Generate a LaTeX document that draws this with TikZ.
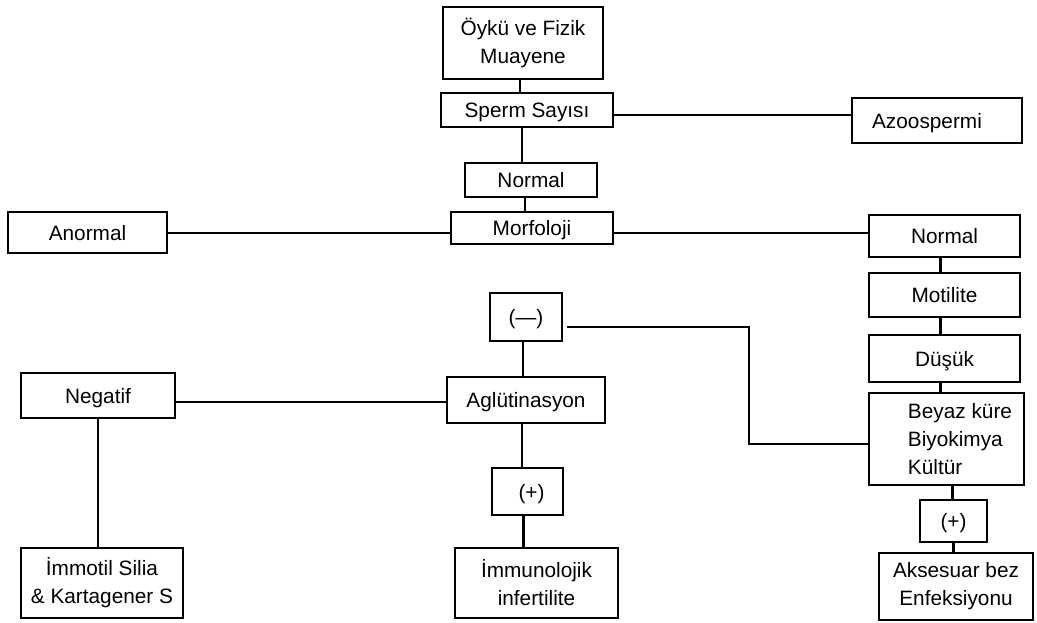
\documentclass[tikz,border=0pt]{standalone}
\usepackage{fontspec}
\setmainfont{Liberation Sans}
\begin{document}
\begin{tikzpicture}[x=0.5pt,y=-0.5pt]
\tikzset{
  box/.style={draw, line width=1.4pt, inner sep=0pt, align=center, font=\fontsize{10.4}{14}\selectfont},
  one/.style={text height=7.5pt, text depth=0pt},
  link/.style={line width=1.1pt},
}
\useasboundingbox (0,0) rectangle (1037,622);
% centre column
\node[box, minimum width=80pt, minimum height=36pt] (oyku) at (523,43) {Öykü ve Fizik\\Muayene};
\node[box, one, minimum width=86pt, minimum height=17pt] (sperm) at (527,110) {Sperm Sayısı};
\node[box, one, minimum width=66pt, minimum height=17pt] (norm1) at (531,180) {Normal};
\node[box, one, minimum width=81pt, minimum height=16pt] (morf) at (532,228) {Morfoloji};
\node[box, one, minimum width=79.5pt, minimum height=20.5pt] (anormal) at (87.5,232.5) {Anormal};
\node[box, one, minimum width=85pt, minimum height=22.5pt] (azoo) at (937,120.5) {Azoospermi\hspace*{10pt}};
% right column
\node[box, one, minimum width=75.5pt, minimum height=21pt] (norm2) at (944.5,236) {Normal};
\node[box, one, minimum width=75.5pt, minimum height=22pt] (motil) at (944.5,295) {Motilite};
\node[box, one, minimum width=75.5pt, minimum height=23.5pt] (dusuk) at (944.5,358.5) {Düşük};
\node[box, minimum width=77.5pt, minimum height=46pt, align=left] (beyaz) at (946.5,439) {\hspace*{13.5pt}Beyaz küre\\\hspace*{13.5pt}Biyokimya\\\hspace*{13.5pt}Kültür};
\node[box, one, minimum width=33.5pt, minimum height=21pt] (plus2) at (953.5,521) {(+)};
\node[box, minimum width=77pt, minimum height=33.5pt] (akses) at (956,586.5) {Aksesuar bez\\Enfeksiyonu};
% middle lower column
\node[box, one, minimum width=36pt, minimum height=24pt] (minus) at (526,317) {(—)};
\node[box, one, minimum width=79pt, minimum height=23pt] (aglu) at (526,400) {Aglütinasyon};
\node[box, one, minimum width=35.5pt, minimum height=23.5pt] (plus1) at (527.5,491.5) {\hspace*{4pt}(+)};
\node[box, minimum width=81.5pt, minimum height=35pt] (immun) at (536.5,583) {İmmunolojik\\infertilite};
% left column
\node[box, one, minimum width=77pt, minimum height=22.5pt] (negatif) at (98,395.5) {Negatif};
\node[box, minimum width=81pt, minimum height=35pt] (immotil) at (102,583) {İmmotil Silia\\\& Kartagener S};
\coordinate (bend) at (749,327);
\coordinate (bin) at ([yshift=-2.5pt]beyaz.west);
\coordinate (mout) at ([xshift=2pt,yshift=-5pt]minus.east);
% connectors
\draw[link] ([xshift=-1.5pt]oyku.south) -- ([xshift=-1.5pt]oyku.south |- sperm.north);
\draw[link] ([xshift=-2.5pt]sperm.south) -- ([xshift=-2.5pt]sperm.south |- norm1.north);
\draw[link] ([xshift=-3pt]norm1.south) -- ([xshift=-3pt]norm1.south |- morf.north);
\draw[link] ([yshift=-2.5pt]sperm.east) -- ([yshift=-2.5pt]sperm.east -| azoo.west);
\draw[link] ([yshift=-2.5pt]morf.west) -- ([yshift=-2.5pt]morf.west -| anormal.east);
\draw[link] ([yshift=-2.5pt]morf.east) -- ([yshift=-2.5pt]morf.east -| norm2.west);
\draw[link] ([xshift=-2pt]norm2.south) -- ([xshift=-2pt]norm2.south |- motil.north);
\draw[link] ([xshift=-2pt]motil.south) -- ([xshift=-2pt]motil.south |- dusuk.north);
\draw[link] ([xshift=-2pt]dusuk.south) -- ([xshift=-2pt]dusuk.south |- beyaz.north);
\draw[link] ([xshift=3pt]beyaz.south) -- ([xshift=3pt]beyaz.south |- plus2.north);
\draw[link] (plus2.south) -- (plus2.south |- akses.north);
\draw[link] ([xshift=-1.5pt]minus.south) -- ([xshift=-1.5pt]minus.south |- aglu.north);
\draw[link] ([xshift=-2pt]aglu.south) -- ([xshift=-2pt]aglu.south |- plus1.north);
\draw[link] ([xshift=-2pt]plus1.south) -- ([xshift=-2pt]plus1.south |- immun.north);
\draw[link] ([yshift=-1pt]aglu.west) -- ([yshift=-1pt]aglu.west -| negatif.east);
\draw[link] (negatif.south) -- (negatif.south |- immotil.north);
\draw[link] (mout) -- (mout -| bend) -- (bend |- bin) -- (bin);
\end{tikzpicture}
\end{document}
